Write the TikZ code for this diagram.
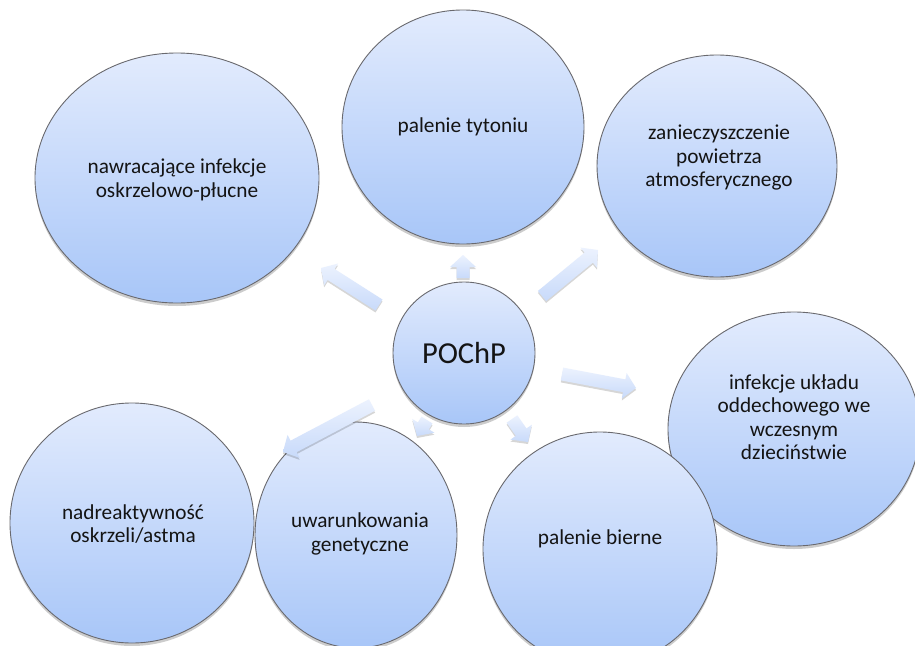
\documentclass[tikz,border=0pt]{standalone}
\usepackage{fontspec}
\setmainfont{Carlito}
\usetikzlibrary{shapes.geometric,shadows,calc}
\definecolor{bubtop}{RGB}{226,235,253}
\definecolor{bubbot}{RGB}{168,198,248}
\definecolor{arrtop}{RGB}{236,242,254}
\definecolor{arrbot}{RGB}{200,218,250}
\definecolor{rim}{RGB}{105,105,110}
\definecolor{ink}{RGB}{20,20,20}
\tikzset{
  bubble/.style={ellipse, draw=rim, line width=0.9pt, inner sep=0pt,
    top color=bubtop, bottom color=bubbot,
    drop shadow={shadow xshift=0pt, shadow yshift=-3pt, opacity=0.2, fill=black}},
  txt/.style={font=\fontsize{21.3}{23.5}\selectfont, align=center, text=ink, inner sep=0pt},
  bigtxt/.style={font=\fontsize{30.5}{34}\selectfont, align=center, text=ink, inner sep=0pt},
  blockfill/.style={top color=arrtop, bottom color=arrbot,
    drop shadow={shadow xshift=0pt, shadow yshift=-2pt, opacity=0.16, fill=black}}
}
\newcommand\blockarrow[2]{%
  \coordinate (#2-base) at ($(#2)!12pt!(#1)$);
  \path[blockfill] ($(#1)!6.5pt!90:(#2)$) -- ($(#2-base)!6.5pt!-90:(#1)$)
    -- ($(#2-base)!13pt!-90:(#1)$) -- (#2) -- ($(#2-base)!13pt!90:(#1)$)
    -- ($(#2-base)!6.5pt!90:(#1)$) -- ($(#1)!6.5pt!-90:(#2)$) -- cycle;
}
\begin{document}
\begin{tikzpicture}[x=1pt,y=-1pt]
\path[use as bounding box, clip] (0,0) rectangle (915,645);
\fill[white] (0,0) rectangle (915,645);

% satellite bubbles
\node[bubble, minimum width=284pt, minimum height=250pt] (nawr) at (177,178) {};
\node[bubble, minimum width=242pt, minimum height=234pt] (tyt) at (463,127) {};
\node[bubble, minimum width=240pt, minimum height=222pt] (zan) at (717,166) {};
\node[bubble, minimum width=244pt, minimum height=240pt] (nadr) at (132,523) {};
\node[bubble, minimum width=202pt, minimum height=226pt] (uwar) at (356,535) {};
\node[bubble, minimum width=252pt, minimum height=234pt] (inf) at (794,429) {};
\node[bubble, minimum width=234pt, minimum height=234pt] (bier) at (600,549) {};
\node[bubble, minimum width=142pt, minimum height=142pt] (poch) at (464,353) {};

% labels
\node[txt] (nawrt) at (177,180) {nawracające infekcje\\oskrzelowo-płucne};
\node[txt] (tytt) at (463,127) {palenie tytoniu};
\node[txt] (zant) at (719,158) {zanieczyszczenie\\powietrza\\atmosferycznego};
\node[txt] (inft) at (794,417) {infekcje układu\\oddechowego we\\wczesnym\\dzieciństwie};
\node[txt] (biert) at (600,539) {palenie bierne};
\node[txt] (uwart) at (360,534) {uwarunkowania\\genetyczne};
\node[txt] (nadrt) at (133,524) {nadreaktywność\\oskrzeli/astma};
\node[bigtxt] (pocht) at (464,353) {POChP};

% block arrows (tail -- tip)
\coordinate (a1s) at (379,305); \coordinate (a1e) at (321,268);
\coordinate (a2s) at (463,278); \coordinate (a2e) at (463,255);
\coordinate (a3s) at (542,296); \coordinate (a3e) at (598,250);
\coordinate (a4s) at (562,374); \coordinate (a4e) at (636,388);
\coordinate (a5s) at (512,419); \coordinate (a5e) at (528,442);
\coordinate (a6s) at (427,420); \coordinate (a6e) at (417,436);
\coordinate (a7s) at (372,405); \coordinate (a7e) at (283,452);
\blockarrow{a1s}{a1e}
\blockarrow{a2s}{a2e}
\blockarrow{a3s}{a3e}
\blockarrow{a4s}{a4e}
\blockarrow{a5s}{a5e}
\blockarrow{a6s}{a6e}
\blockarrow{a7s}{a7e}
\end{tikzpicture}
\end{document}
